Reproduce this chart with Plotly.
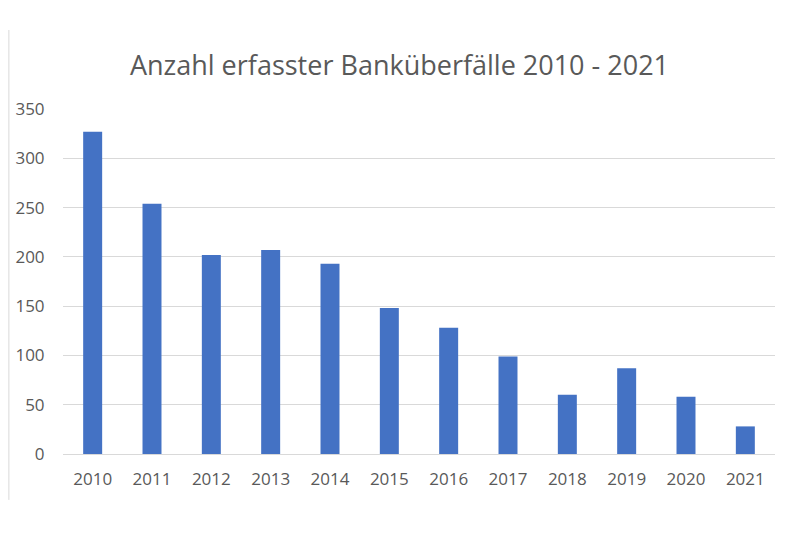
import plotly.graph_objects as go

years = ["2010", "2011", "2012", "2013", "2014", "2015",
         "2016", "2017", "2018", "2019", "2020", "2021"]
robberies = [327, 254, 202, 207, 193, 148, 128, 99, 60, 87, 58, 28]
y_ticks = [0, 50, 100, 150, 200, 250, 300, 350]

font_family = "Open Sans, Noto Sans, sans-serif"
grey_text = "#595959"
frame = "#d9d9d9"

fig = go.Figure(go.Bar(x=years, y=robberies, marker_color="#4472C4",
                       marker_line_width=0))

# the page adds an 8px body margin, so the figure is 8px smaller here
fig.update_layout(
    width=792, height=525,
    paper_bgcolor="white", plot_bgcolor="white",
    margin=dict(l=55, r=25, t=101, b=79, autoexpand=False),
    bargap=0.68,
    showlegend=False,
    title=dict(text="Anzahl erfasster Banküberfälle 2010 - 2021",
               x=0.4943, xanchor="center", y=0.8895, yanchor="middle",
               font=dict(family=font_family, size=27, color=grey_text)),
    font=dict(family=font_family, size=17, color=grey_text),
    # thin frame lines at the sides of the image
    shapes=[
        dict(type="line", xref="paper", yref="paper", x0=-0.0760, x1=-0.0760,
             y0=-0.133, y1=1.229, line=dict(color=frame, width=1)),
        dict(type="line", xref="paper", yref="paper", x0=1.032, x1=1.032,
             y0=-0.133, y1=1.229, line=dict(color=frame, width=1)),
    ],
)

fig.update_xaxes(automargin=False, showgrid=False, showline=True,
                 linecolor=frame, linewidth=1, ticks="outside", ticklen=10,
                 tickcolor="white")
fig.update_yaxes(automargin=False, range=[0, 350], tickvals=y_ticks,
                 showgrid=True, gridcolor=frame, gridwidth=1, zeroline=False,
                 ticks="outside", ticklen=14, tickcolor="white")

fig.write_html("out.html")
